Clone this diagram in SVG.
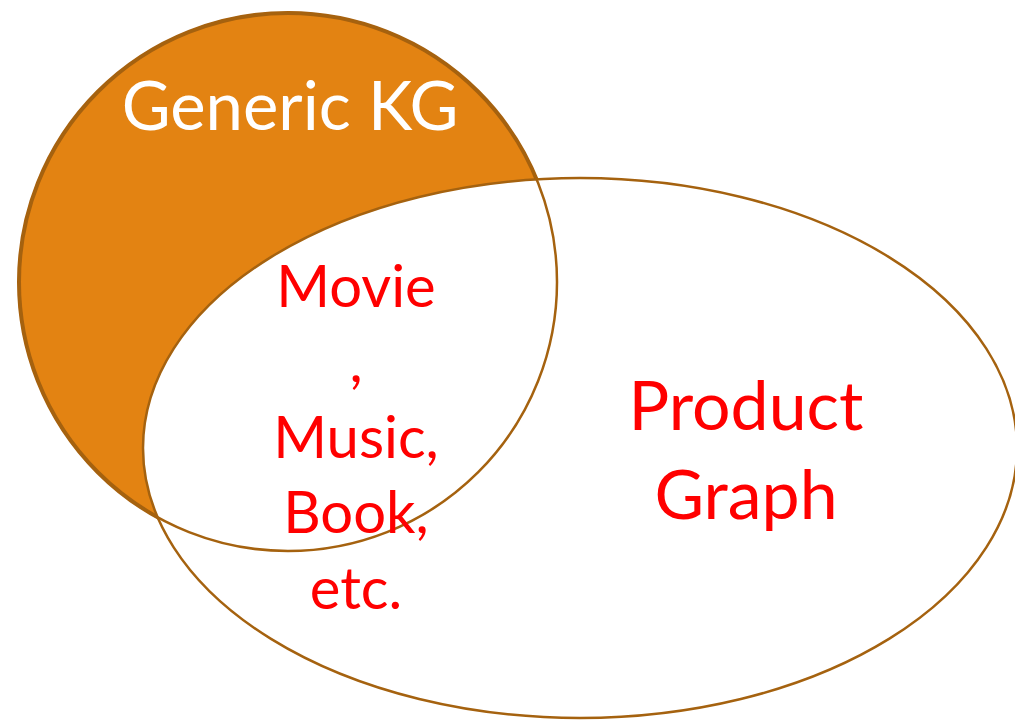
<svg xmlns="http://www.w3.org/2000/svg" width="1015" height="723" viewBox="0 0 1015 723">
<style>
.lbl{font-family:Lato,"Open Sans","Liberation Sans",sans-serif;text-anchor:middle}
.red{fill:#FF0000}
.edge{fill:none;stroke:#A5620F}
</style>
<rect width="1015" height="723" fill="#FFFFFF"/>
<g id="generic-kg">
<ellipse cx="288" cy="282" rx="269" ry="269" fill="#E38312" stroke="#A8620F" stroke-width="4"/>
<text class="lbl" x="290" y="130" font-size="67" fill="#FFFFFF">Generic KG</text>
</g>
<g id="product-graph">
<ellipse cx="580" cy="448" rx="437" ry="270" fill="#FFFFFF" stroke="#A5620F" stroke-width="2.5"/>
<text class="lbl red" x="746" y="430" font-size="68">Product</text>
<text class="lbl red" x="746" y="519" font-size="68">Graph</text>
</g>
<g id="overlap">
<ellipse class="edge" cx="288" cy="282" rx="269" ry="269" stroke-width="2.5"/>
<text class="lbl red" x="356" y="307" font-size="58">Movie</text>
<text class="lbl red" x="356" y="382" font-size="58">,</text>
<text class="lbl red" x="356" y="458" font-size="58">Music,</text>
<text class="lbl red" x="356" y="533" font-size="58">Book,</text>
<text class="lbl red" x="356" y="609" font-size="58">etc.</text>
</g>
<g id="connectors"></g>
</svg>
